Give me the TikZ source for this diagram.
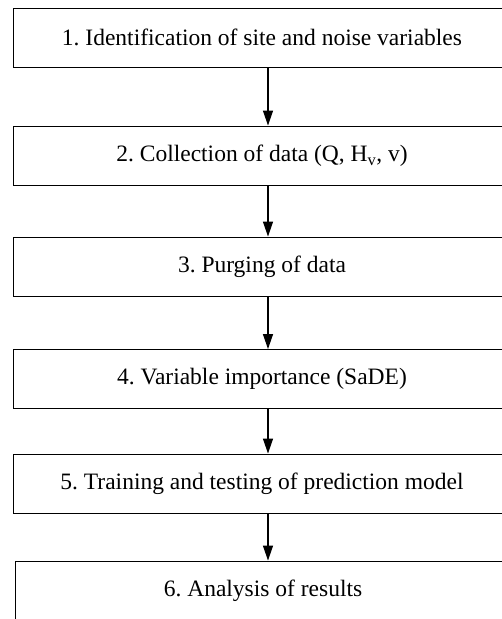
\documentclass[tikz,border=0pt]{standalone}
\usepackage{fontspec}
\setmainfont{Liberation Serif}
\usetikzlibrary{arrows.meta}
\frenchspacing
\tikzset{
  stepbox/.style={draw=black, line width=0.9pt, fill=white, minimum height=59pt,
    inner sep=0pt, font=\fontsize{23.5pt}{26pt}\selectfont},
  flowarrow/.style={draw=black, line width=1.3pt,
    -{Triangle[width=10pt,length=15pt]}, shorten >=0pt},
}
\begin{document}
\begin{tikzpicture}[x=1pt,y=-1pt]
\useasboundingbox (0,0) rectangle (502,619);
\clip (0,0) rectangle (502,619);

\node[stepbox, minimum width=498pt] (b1) at (262,37.5)
  {1. Identification of site and noise variables};
\node[stepbox, minimum width=498pt] (b2) at (262,155.5)
  {2. Collection of data (Q, H\textsubscript{v}, v)};
\node[stepbox, minimum width=498pt] (b3) at (262,266.5)
  {3. Purging of data};
\node[stepbox, minimum width=498pt] (b4) at (262,379)
  {4. Variable importance (SaDE)};
\node[stepbox, minimum width=498pt] (b5) at (262,483.5)
  {5. Training and testing of prediction model};
\node[stepbox, minimum width=496pt] (b6) at (263,590.5)
  {6. Analysis of results};

\coordinate (ax) at (268,0);
\draw[flowarrow] (b1.south -| ax) -- (b2.north -| ax);
\draw[flowarrow] (b2.south -| ax) -- (b3.north -| ax);
\draw[flowarrow] (b3.south -| ax) -- (b4.north -| ax);
\draw[flowarrow] (b4.south -| ax) -- (b5.north -| ax);
\draw[flowarrow] (b5.south -| ax) -- (b6.north -| ax);
\end{tikzpicture}
\end{document}
